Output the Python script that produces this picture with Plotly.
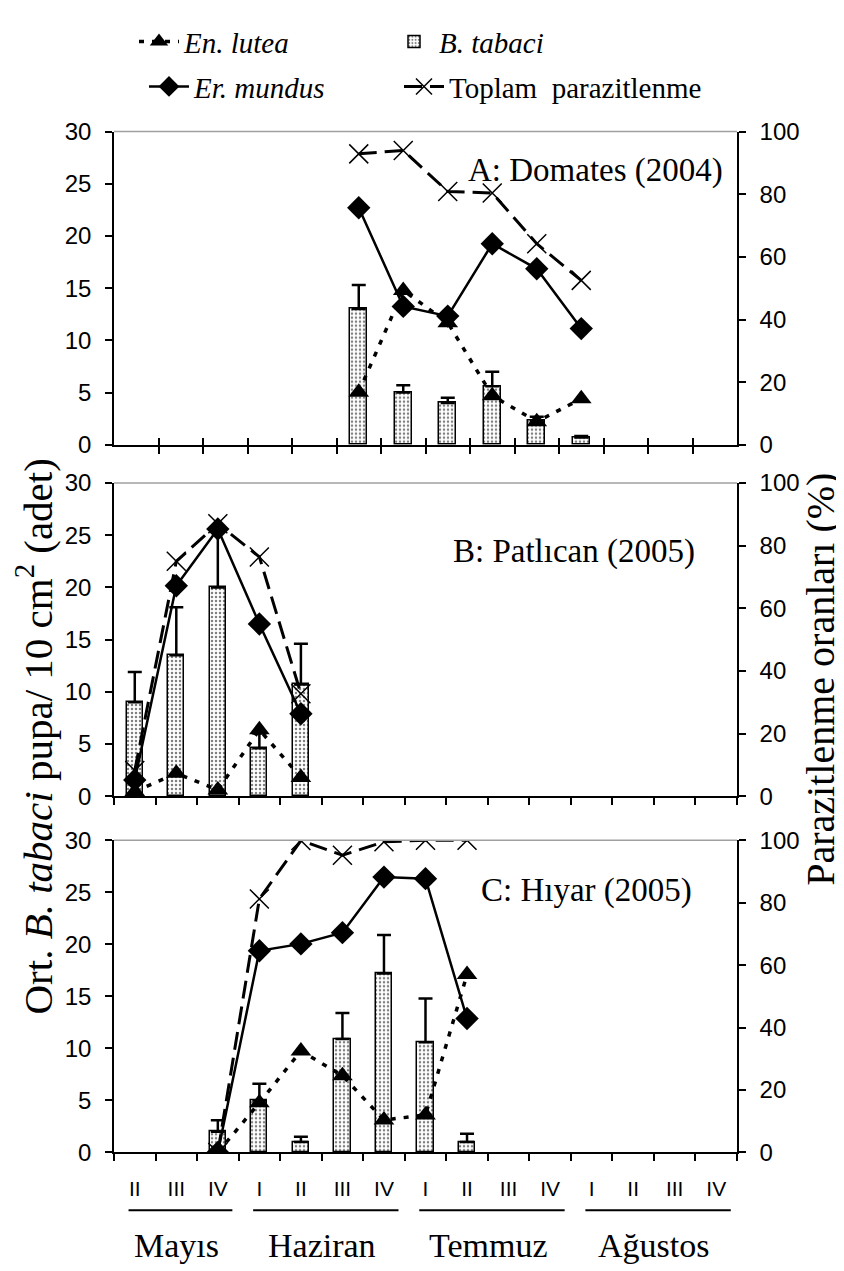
import plotly.graph_objects as go

# ---------------- data ----------------
week_labels = ["II", "III", "IV", "I", "II", "III", "IV", "I", "II", "III", "IV", "I", "II", "III", "IV"]
months = ["Mayıs", "Haziran", "Temmuz", "Ağustos"]
month_weeks = [3, 4, 4, 4]
n_weeks_a = 14

# Panel A: Domates (2004)
a_x = [5, 6, 7, 8, 9, 10]
a_btabaci = [13.0, 5.0, 4.0, 5.6, 2.3, 0.7]
a_btabaci_err = [2.3, 0.7, 0.5, 1.4, 0.4, 0.15]
a_lutea = [16.8, 49.3, 39.0, 15.7, 7.4, 14.7]
a_mundus = [75.7, 44.2, 41.1, 64.2, 56.2, 37.1]
a_toplam = [92.9, 94.0, 80.9, 80.4, 64.2, 52.5]

# Panel B: Patlıcan (2005)
b_x = [0, 1, 2, 3, 4]
b_btabaci = [9.0, 13.5, 20.0, 4.6, 10.7]
b_btabaci_err = [2.9, 4.6, 5.5, 1.4, 3.9]
b_lutea = [1.5, 7.3, 2.0, 21.2, 6.0]
b_mundus = [5.2, 67.2, 85.3, 55.0, 26.3]
b_toplam = [8.2, 75.0, 87.0, 76.4, 32.7]

# Panel C: Hıyar (2005)
c_x = [2, 3, 4, 5, 6, 7, 8]
c_btabaci = [2.0, 5.0, 1.0, 10.9, 17.2, 10.6, 1.0]
c_btabaci_err = [1.1, 1.6, 0.5, 2.5, 3.7, 4.2, 0.8]
c_lutea = [0.0, 15.9, 32.5, 24.6, 10.4, 12.0, 57.0]
c_mundus = [0.0, 64.6, 66.8, 70.4, 88.2, 87.7, 42.9]
c_toplam = [0.0, 81.2, 99.9, 95.2, 99.5, 100.0, 100.0]

panel_titles = ["A: Domates (2004)", "B: Patlıcan (2005)", "C: Hıyar (2005)"]
left_title = "Ort. <i>B. tabaci</i> pupa/ 10 cm<sup>2</sup> (adet)"
right_title = "Parazitlenme oranları (%)"

# ---------------- layout helpers ----------------
W, H = 844, 1271


def fx(px):
    return px / W


def fy(py):
    return 1 - py / H


X_DOM = [fx(106), fx(729)]
DOMS = [[fy(432), fy(112)], [fy(791), fy(471)], [fy(1155), fy(836)]]

SERIF = "Liberation Serif, Times New Roman, serif"
SANS = "Liberation Sans Narrow, Arial Narrow, Liberation Sans, Arial, sans-serif"
BLACK = "black"

fig = go.Figure()


def add_panel(xs, bars, errs, lutea, mundus, toplam, xa, yl, yr, show):
    fig.add_trace(go.Bar(
        x=xs, y=bars, width=0.39, xaxis=xa, yaxis=yl,
        name="<i>B. tabaci</i>", legend="legend", legendrank=2, legendwidth=130, showlegend=show,
        marker=dict(color="white", line=dict(color=BLACK, width=1.5),
                    pattern=dict(shape=".", fgcolor=BLACK, bgcolor="white", size=4, solidity=0.3)),
        error_y=dict(type="data", symmetric=False, array=errs, arrayminus=[0] * len(errs),
                     color=BLACK, thickness=2.5, width=7),
    ))
    fig.add_trace(go.Scatter(
        x=xs, y=lutea, xaxis=xa, yaxis=yr, mode="lines+markers",
        name="<i>En. lutea</i>", legend="legend", legendrank=1, legendwidth=200, showlegend=show,
        line=dict(color=BLACK, width=3.5, dash="5px,8px"),
        marker=dict(symbol="triangle-up", size=18, color=BLACK),
    ))
    fig.add_trace(go.Scatter(
        x=xs, y=mundus, xaxis=xa, yaxis=yr, mode="lines+markers",
        name="<i>Er. mundus</i>", legend="legend2", legendrank=1, legendwidth=200, showlegend=show,
        line=dict(color=BLACK, width=2.5),
        marker=dict(symbol="diamond", size=18, color=BLACK),
    ))
    fig.add_trace(go.Scatter(
        x=xs, y=toplam, xaxis=xa, yaxis=yr, mode="lines+markers",
        name="Toplam\u00a0 parazitlenme", legend="legend2", legendrank=2, legendwidth=300,
        showlegend=show,
        line=dict(color=BLACK, width=3, dash="18px,8px"),
        marker=dict(symbol="x-thin", size=19, color=BLACK, line=dict(color=BLACK, width=1.5)),
    ))


add_panel(a_x, a_btabaci, a_btabaci_err, a_lutea, a_mundus, a_toplam, "x", "y", "y2", True)
add_panel(b_x, b_btabaci, b_btabaci_err, b_lutea, b_mundus, b_toplam, "x2", "y3", "y4", False)
add_panel(c_x, c_btabaci, c_btabaci_err, c_lutea, c_mundus, c_toplam, "x3", "y5", "y6", False)

line_style = dict(showline=True, linecolor=BLACK, linewidth=1.5, showgrid=False, zeroline=False)
tick_font = dict(family=SANS, size=24, color=BLACK)

n_b = len(week_labels)
bounds_a = [i - 0.5 for i in range(n_weeks_a + 1)]
bounds_b = [i - 0.5 for i in range(n_b + 1)]
minor_a = [v + 1e-6 if v < n_weeks_a - 0.5 else v - 1e-6 for v in bounds_a]


def left_axis(dom, xa):
    return dict(domain=dom, anchor=xa, range=[0, 30], tickmode="linear", tick0=0, dtick=5,
                ticks="outside", ticklen=7, tickwidth=1.5, tickcolor=BLACK,
                tickfont=tick_font, ticklabelstandoff=9, **line_style)


def right_axis(base, xa):
    return dict(overlaying=base, anchor=xa, side="right", range=[0, 100], tickmode="linear",
                tick0=0, dtick=20, ticks="outside", ticklen=7, tickwidth=1.5, tickcolor=BLACK,
                tickfont=tick_font, ticklabelstandoff=9, **line_style)


legend_common = dict(orientation="h", xanchor="left", yanchor="middle",
                     font=dict(family=SERIF, size=29, color=BLACK), bgcolor="rgba(0,0,0,0)",
                     itemwidth=40, traceorder="normal")

fig.update_layout(
    width=W, height=H, autosize=False,
    margin=dict(l=0, r=0, t=0, b=0),
    paper_bgcolor="white", plot_bgcolor="white",
    bargap=0,
    xaxis=dict(domain=X_DOM, anchor="y", range=[-0.5, n_weeks_a - 0.5], tickmode="array",
               tickvals=bounds_a, ticks="inside", ticklen=7, tickwidth=1.5, tickcolor=BLACK,
               showticklabels=False,
               minor=dict(tickmode="array", tickvals=minor_a, ticks="outside", ticklen=7,
                          tickwidth=1.5, tickcolor=BLACK),
               **line_style),
    yaxis=left_axis(DOMS[0], "x"),
    yaxis2=right_axis("y", "x"),
    xaxis2=dict(domain=X_DOM, anchor="y3", range=[-0.5, n_b - 0.5], tickmode="array",
                tickvals=bounds_b, ticks="outside", ticklen=7, tickwidth=1.5, tickcolor=BLACK,
                showticklabels=False, **line_style),
    yaxis3=left_axis(DOMS[1], "x2"),
    yaxis4=right_axis("y3", "x2"),
    xaxis3=dict(domain=X_DOM, anchor="y5", range=[-0.5, n_b - 0.5], tickmode="array",
                tickvals=list(range(n_b)), ticktext=week_labels, ticks="outside", ticklen=0,
                tickcolor="rgba(0,0,0,0)",
                tickfont=dict(family=SANS, size=21, color=BLACK), ticklabelstandoff=17,
                minor=dict(tickmode="array", tickvals=bounds_b, ticks="outside", ticklen=7,
                           tickwidth=1.5, tickcolor=BLACK),
                **line_style),
    yaxis5=left_axis(DOMS[2], "x3"),
    yaxis6=right_axis("y5", "x3"),
    legend=dict(x=fx(126), y=fy(20), **legend_common),
    legend2=dict(x=fx(136), y=fy(66), **legend_common),
)

# top border of each plot area (grey)
shapes = []
for xa, ya in [("x", "y"), ("x2", "y3"), ("x3", "y5")]:
    shapes.append(dict(type="line", xref=f"{xa} domain", yref=f"{ya} domain", x0=0, x1=1, y0=1, y1=1,
                       line=dict(color="#a0a0a0", width=1.5)))

annotations = []
# panel titles
title_pos = [(717, 152), (689, 541), (686, 887)]
for txt, (px, py) in zip(panel_titles, title_pos):
    annotations.append(dict(text=txt, xref="paper", yref="paper", x=fx(px), y=fy(py),
                            xanchor="right", yanchor="middle", showarrow=False,
                            font=dict(family=SERIF, size=33, color=BLACK)))

# month labels and underlines below panel C
start = 0
for m, n in zip(months, month_weeks):
    end = start + n - 1
    annotations.append(dict(text=m, xref="x3", yref="paper", x=(start + end) / 2, y=fy(1250),
                            xanchor="center", yanchor="middle", showarrow=False,
                            font=dict(family=SERIF, size=34, color=BLACK)))
    shapes.append(dict(type="line", xref="x3", yref="paper", x0=start - 0.15, x1=end + 0.35,
                       y0=fy(1214), y1=fy(1214), line=dict(color=BLACK, width=2)))
    start += n

# axis titles
annotations.append(dict(text=left_title, xref="paper", yref="paper", x=fx(27), y=fy(730),
                        xanchor="center", yanchor="middle", textangle=-90, showarrow=False,
                        font=dict(family=SERIF, size=41, color=BLACK)))
annotations.append(dict(text=right_title, xref="paper", yref="paper", x=fx(813), y=fy(672),
                        xanchor="center", yanchor="middle", textangle=-90, showarrow=False,
                        font=dict(family=SERIF, size=40, color=BLACK)))

fig.update_layout(shapes=shapes, annotations=annotations)

fig.write_html("out.html")
